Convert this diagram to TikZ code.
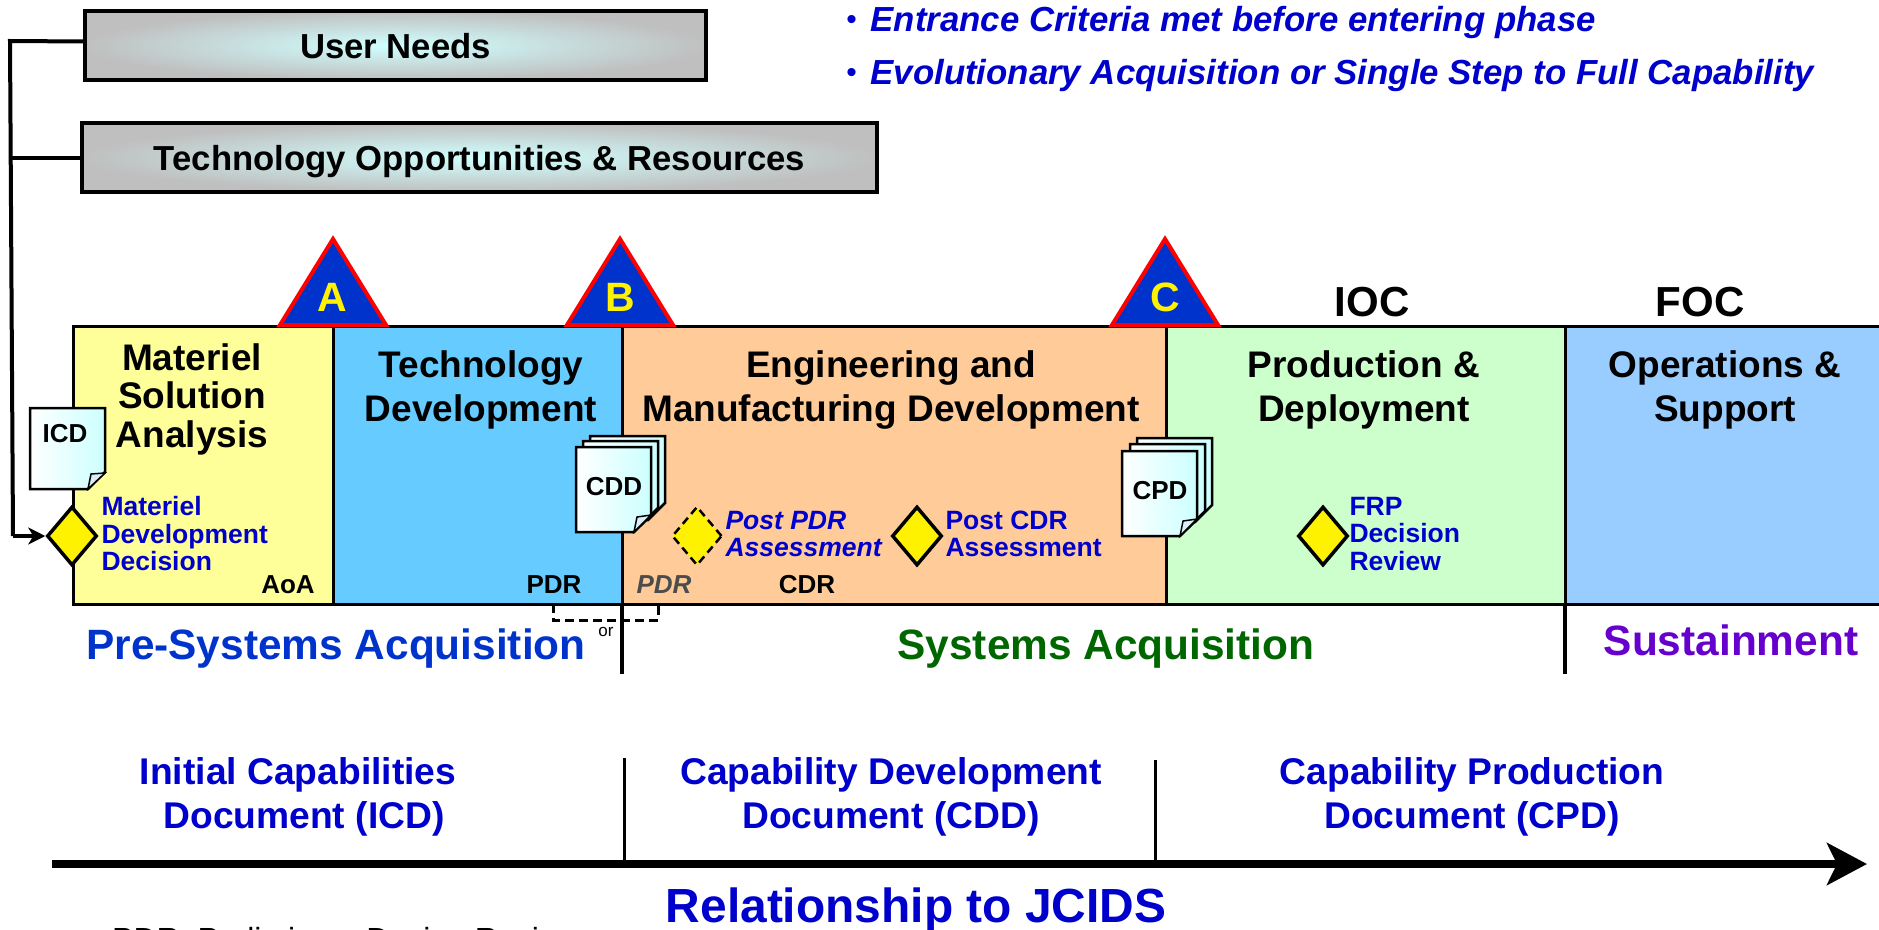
\documentclass[tikz,border=0pt]{standalone}
\usepackage{xcolor}
\usepackage{fontspec}
\setmainfont{Liberation Sans}
\usepackage{tikz}
\usetikzlibrary{shapes.geometric,arrows.meta,positioning,calc}
\definecolor{labelblue}{HTML}{0000CC}
\definecolor{royal}{HTML}{0033CC}
\newcommand{\fs}[1]{\fontsize{#1}{#1}\selectfont}
\tikzstyle{phase} = [rectangle, minimum height=278pt, inner sep=0pt, outer sep=0pt, draw=black, line width=3pt]
\tikzstyle{title} = [align=center, font=\fs{37}\bfseries, text=black]
\tikzstyle{need} = [rectangle, minimum height=69pt, inner sep=0pt, outer sep=0pt, text height=33pt, text depth=7pt, draw=black, line width=4.5pt, inner color=cyan!18!white, outer color=black!25, font=\fs{34.7}\bfseries]
\tikzstyle{decision} = [diamond, minimum width=50pt, minimum height=59pt, inner sep=0pt, draw=black, line width=3.5pt, fill=yellow]
\tikzstyle{note} = [align=left, anchor=west, font=\fs{26.5}\bfseries, text=labelblue]
\tikzstyle{review} = [anchor=base, font=\fs{26}\bfseries]
\tikzstyle{track} = [align=center, font=\fs{37.2}\bfseries, text=labelblue]
\tikzstyle{goal} = [anchor=base west, font=\fs{34.8}\bfseries\itshape, text=labelblue]
\tikzstyle{wire} = [black, line width=4pt]
\tikzstyle{delta} = [draw=red, line width=4pt, line join=miter, fill=royal]
\tikzstyle{front} = [draw=black, line width=2.5pt, line join=miter, shading angle=135, left color=white, right color=cyan!20!white]
\tikzstyle{crease} = [draw=black, line width=1.5pt, fill=black!25!cyan!15!white, line join=miter]
\newcommand{\docpage}[4]{%
	\path[#1] (#2,#3) -- ++(75,0) -- ++(0,#4-17) -- ++(-17,17) -- ++(-58,0) -- cycle;}
\begin{document}
\begin{tikzpicture}[x=1pt,y=-1pt]
	\useasboundingbox (0,0) rectangle (1879,929);
	\node (Materiel) [phase, fill={rgb,255:red,255;green,255;blue,153}, minimum width=260pt, anchor=north west] at (73,326) {};
	\node (Technology) [phase, fill={rgb,255:red,102;green,204;blue,255}, minimum width=289pt, right = 0pt of Materiel] {};
	\node (Engineering) [phase, fill={rgb,255:red,255;green,204;blue,153}, minimum width=544pt, right = 0pt of Technology] {};
	\node (Production) [phase, fill={rgb,255:red,204;green,255;blue,204}, minimum width=399pt, right = 0pt of Engineering] {};
	\node (Operations) [phase, fill={rgb,255:red,153;green,204;blue,255}, minimum width=320pt, right = 0pt of Production] {};

	\node (MaterielTitle) [title] at (192,399) {Materiel\\[1.5pt]Solution\\[1.5pt]Analysis};
	\node (TechnologyTitle) [title] at (481,390) {Technology\\[7pt]Development};
	\node (EngineeringTitle) [title] at (891,390) {Engineering and\\[7pt]Manufacturing Development};
	\node (ProductionTitle) [title] at (1364,390) {Production \&\\[7pt]Deployment};
	\node (OperationsTitle) [title] at (1725,390) {Operations \&\\[7pt]Support};

	\node (UserNeeds) [need, minimum width=621pt, anchor=north west] at (85,11) {User Needs};
	\node (TechOpp) [need, minimum width=795pt, anchor=north west] at (82,123) {Technology Opportunities \& Resources\hspace{14pt}};

	\node (Entrance) [goal] at (867,31) {Entrance Criteria met before entering phase};
	\node (Evolution) [goal] at (867,84) {Evolutionary Acquisition or Single Step to Full Capability};
	\node (EntranceDot) [left = 10pt of Entrance, font=\fs{30}, text=labelblue, inner sep=0pt] {•};
	\node (EvolutionDot) [left = 10pt of Evolution, font=\fs{30}, text=labelblue, inner sep=0pt] {•};

	\node (MDD) [decision] at (72,536) {};
	\node (PostPDR) [decision, line width=2.5pt, dash pattern=on 8pt off 5pt] at (697,536) {};
	\node (PostCDR) [decision] at (917,536) {};
	\node (FRP) [decision] at (1323,536) {};

	\coordinate (Corner) at (10,41);
	\coordinate (Elbow) at (13,536);
	\draw[wire] ([yshift=4pt]UserNeeds.west) -- (Corner) -- (Elbow);
	\draw[wire] (TechOpp.west) -- (TechOpp.west -| Corner);
	\draw[wire, -{Stealth[length=17pt,width=17pt,inset=5pt]}] (Elbow) -- (MDD.west);

	\node (MDDNote) [note] at (98,534) {Materiel\\[1pt]Development\\[1pt]Decision};
	\node (PostPDRNote) [note, font=\fs{26.5}\bfseries\itshape] at (722,534) {Post PDR\\[1pt]Assessment};
	\node (PostCDRNote) [note] at (942,534) {Post CDR\\[1pt]Assessment};
	\node (FRPNote) [note] at (1346,534) {FRP\\[1pt]Decision\\[1pt]Review};

	\node (AoA) [review] at (288,593) {AoA};
	\node (PDR) [review] at (554,593) {PDR};
	\node (PDRAlt) [review, font=\fs{26}\bfseries\itshape, text=black!70] at (664,593) {PDR};
	\node (CDR) [review] at (807,593) {CDR};

	\coordinate (OrLeft) at (553,620);
	\coordinate (OrRight) at (658,620);
	\draw[black, line width=3pt, dash pattern=on 9pt off 5pt] (OrLeft |- Materiel.south) -- (OrLeft) -- (OrRight) -- (OrRight |- Materiel.south);
	\node (Or) [font=\fs{17}] at (606,632) {or};

	\coordinate (PreEnd) at (622,674);
	\coordinate (SustainEnd) at (1565,674);
	\draw[wire] (Technology.south east) -- (PreEnd);
	\draw[wire] (Production.south east) -- (SustainEnd);

	\draw[delta] (280,325) -- (333,239) -- (386,325) -- cycle;
	\draw[delta] (567,325) -- (620,239) -- (673,325) -- cycle;
	\draw[delta] (1112,325) -- (1165,239) -- (1218,325) -- cycle;
	\node (MilestoneA) [font=\fs{41}\bfseries, text=yellow] at (332,297) {A};
	\node (MilestoneB) [font=\fs{41}\bfseries, text=yellow] at (620,297) {B};
	\node (MilestoneC) [font=\fs{41}\bfseries, text=yellow] at (1165,297) {C};
	\node (IOC) [font=\fs{42}\bfseries] at (1372,302) {IOC};
	\node (FOC) [font=\fs{42}\bfseries] at (1700,302) {FOC};

	\docpage{front}{30}{408}{81}
	\path[crease] (105,473) -- (88,489) -- (91,474) -- cycle;
	\node (ICD) [font=\fs{26}\bfseries] at (65,434) {ICD};

	\docpage{front}{590}{436}{84}
	\docpage{front}{583}{441}{84}
	\docpage{front}{576}{447}{85}
	\path[crease] (651,515) -- (634,532) -- (637,517) -- cycle;
	\node (CDD) [font=\fs{26}\bfseries] at (614,487) {CDD};

	\docpage{front}{1137}{438}{84}
	\docpage{front}{1130}{444}{84}
	\docpage{front}{1122}{451}{85}
	\path[crease] (1197,519) -- (1180,536) -- (1183,521) -- cycle;
	\node (CPD) [font=\fs{26}\bfseries] at (1160,491) {CPD};

	\node (PreSystems) [font=\fs{42.4}\bfseries, text=royal] at (336,649) {Pre-Systems Acquisition};
	\node (Systems) [font=\fs{42.4}\bfseries, text={rgb,255:red,0;green,102;blue,0}] at (1106,649) {Systems Acquisition};
	\node (Sustainment) [font=\fs{42.4}\bfseries, text={rgb,255:red,102;green,0;blue,204}] at (1731,640) {Sustainment};

	\node (ICDTrack) [track] at (298,797) {Initial Capabilities\\[7pt]\hspace*{12pt}Document (ICD)};
	\node (CDDTrack) [track] at (891,797) {Capability Development\\[7pt]Document (CDD)};
	\node (CPDTrack) [track] at (1472,797) {Capability Production\\[7pt]Document (CPD)};

	\coordinate (AxisStart) at (52,864);
	\coordinate (AxisEnd) at (1867,864);
	\draw[black, line width=8pt, -{Stealth[length=40pt,width=42pt,inset=10pt]}] (AxisStart) -- (AxisEnd);
	\coordinate (TickOneTop) at (624,758);
	\coordinate (TickOneEnd) at (624,860);
	\coordinate (TickTwoTop) at (1155,760);
	\coordinate (TickTwoEnd) at (1155,860);
	\draw[wire, line width=3pt] (TickOneTop) -- (TickOneEnd);
	\draw[wire, line width=3pt] (TickTwoTop) -- (TickTwoEnd);

	\node (JCIDS) [font=\fs{47.9}\bfseries, text=labelblue] at (916,910) {Relationship to JCIDS};
	\node (PDRLegend) [anchor=base west, inner sep=0pt, font=\fs{32}] at (112,950) {PDR: Preliminary Design Review};
\end{tikzpicture}
\end{document}
